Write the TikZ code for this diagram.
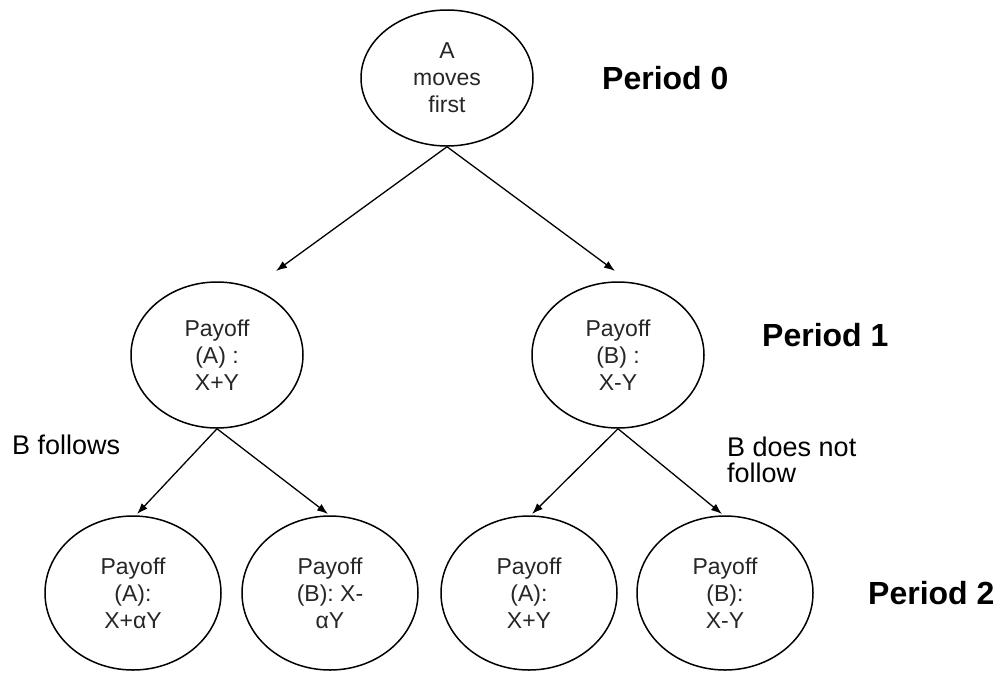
\documentclass[tikz,border=0pt]{standalone}
\usepackage{fontspec}
\setmainfont{Liberation Sans}
\usetikzlibrary{shapes.geometric,arrows.meta}
\begin{document}
\begin{tikzpicture}[x=1pt,y=-1pt,
  state/.style={draw,line width=1.5pt,ellipse,inner sep=0pt,align=center,
    font=\fontsize{23}{27}\selectfont,text=black!85},
  topstate/.style={state,minimum width=172pt,minimum height=136pt},
  midstate/.style={state,minimum width=172pt,minimum height=146pt},
  lowstate/.style={state,minimum width=176pt,minimum height=154pt},
  arr/.style={line width=1.3pt,-{Latex[length=11pt,width=8pt]}},
  period/.style={anchor=west,font=\fontsize{32}{36}\selectfont\bfseries,inner sep=0pt},
  lbl/.style={anchor=west,align=left,font=\fontsize{27}{26}\selectfont,inner sep=0pt}]
\useasboundingbox (0,0) rectangle (999,673);
\node[topstate] (top) at (447,78) {A\\moves\\first};
\node[midstate] (pl) at (217,355) {Payoff\\(A) :\\X+Y};
\node[midstate] (pr) at (618,355) {Payoff\\(B) :\\X-Y};
\node[lowstate] (q1) at (133,593) {Payoff\\(A):\\X+αY};
\node[lowstate] (q2) at (330,593) {Payoff\\(B): X-\\αY};
\node[lowstate] (q3) at (529,593) {Payoff\\(A):\\X+Y};
\node[lowstate] (q4) at (725,593) {Payoff\\(B):\\X-Y};
\coordinate (t1) at (276,271);
\coordinate (t2) at (615,271);
\coordinate (t3) at (137,514);
\coordinate (t4) at (328,514);
\coordinate (t5) at (532,514);
\coordinate (t6) at (722,514);
\draw[arr] (top.south) -- (t1);
\draw[arr] (top.south) -- (t2);
\draw[arr] (pl.south) -- (t3);
\draw[arr] (pl.south) -- (t4);
\draw[arr] (pr.south) -- (t5);
\draw[arr] (pr.south) -- (t6);
\node[period] (p0) at (602,78) {Period 0};
\node[period] (p1) at (762,335) {Period 1};
\node[period] (p2) at (868,593) {Period 2};
\node[lbl] (bf) at (12,445) {B follows};
\node[lbl] (bn) at (727,460) {B does not\\follow};
\end{tikzpicture}
\end{document}
